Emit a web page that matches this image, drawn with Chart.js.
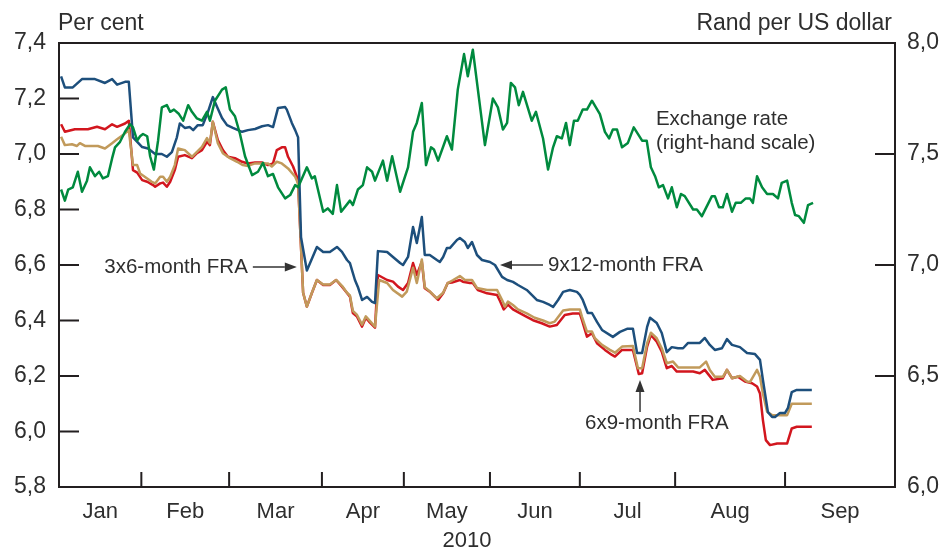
<!DOCTYPE html>
<html>
<head>
<meta charset="utf-8">
<script src="https://cdn.jsdelivr.net/npm/chart.js@4.4.0/dist/chart.umd.min.js"></script>
<style>
  body { margin: 0; background: #fff; }
</style>
</head>
<body>
<canvas id="chart" width="952" height="551"></canvas>
<script>
// x axis is in trading days from the start of January 2010
const months = ["Jan", "Feb", "Mar", "Apr", "May", "Jun", "Jul", "Aug", "Sep"];
const monthStarts = [0, 19.7, 40.7, 62.9, 82.5, 103.1, 124.6, 147.4, 173.7, 200];
const leftTicks = [5.8, 6.0, 6.2, 6.4, 6.6, 6.8, 7.0, 7.2, 7.4];
const rightTicks = [6.0, 6.5, 7.0, 7.5, 8.0];

// 9x12-month FRA, per cent
const fra9x12Day = [0.5,1.4,3.3,5.5,8.6,11.0,12.7,13.9,15.8,16.7,
  17.7,19.9,21.3,23.0,24.6,25.8,27.0,28.2,28.9,30.1,
  31.3,32.1,33.2,34.4,35.6,36.8,37.8,39.0,40.2,41.6,
  43.8,45.2,46.9,48.6,50.0,51.2,52.4,54.1,54.5,55.7,
  56.5,57.2,57.9,59.3,61.7,63.2,64.8,66.5,67.7,68.9,
  69.6,70.8,71.5,72.5,73.7,74.9,75.6,76.3,78.5,79.9,
  81.6,82.3,83.5,84.7,85.6,86.8,87.5,88.7,90.4,91.1,
  91.9,92.8,93.5,95.2,95.9,97.1,97.8,98.8,100.0,101.2,
  103.1,104.3,106.0,107.2,108.6,109.8,111.9,113.1,114.3,115.8,
  117.4,118.2,119.4,120.6,122.2,123.9,124.6,125.3,126.5,127.5,
  128.7,129.9,132.5,134.2,135.9,137.3,138.3,139.5,140.7,141.4,
  143.0,144.2,145.4,146.6,148.1,149.3,150.5,153.3,154.5,155.7,
  156.9,158.6,159.8,161.0,162.9,164.6,166.5,167.7,168.4,169.6,
  170.6,171.3,172.5,173.7,174.4,175.3,176.5,180.1];
const fra9x12 = [7.28,7.24,7.24,7.27,7.27,7.256,7.27,7.25,7.26,7.26,
  7.06,7.025,7.02,7.00,7.00,6.99,7.007,7.06,7.11,7.094,
  7.097,7.086,7.104,7.104,7.15,7.205,7.17,7.13,7.104,7.094,
  7.08,7.086,7.09,7.10,7.104,7.097,7.166,7.169,7.16,7.112,
  7.086,7.06,6.70,6.58,6.665,6.647,6.647,6.665,6.647,6.618,
  6.607,6.546,6.521,6.474,6.485,6.467,6.463,6.65,6.647,6.629,
  6.607,6.60,6.629,6.737,6.679,6.773,6.636,6.636,6.618,6.611,
  6.629,6.661,6.661,6.69,6.697,6.683,6.661,6.683,6.636,6.618,
  6.611,6.60,6.557,6.546,6.539,6.528,6.51,6.492,6.474,6.467,
  6.456,6.449,6.474,6.503,6.51,6.503,6.492,6.474,6.427,6.427,
  6.395,6.366,6.341,6.359,6.37,6.37,6.283,6.283,6.377,6.41,
  6.391,6.355,6.286,6.304,6.30,6.30,6.319,6.319,6.337,6.312,
  6.294,6.30,6.333,6.312,6.304,6.283,6.279,6.258,6.186,6.07,
  6.052,6.052,6.067,6.067,6.085,6.142,6.15,6.15];

// 6x9-month FRA, per cent
const fra6x9Day = [0.5,1.4,3.8,6.9,9.1,11.0,12.7,13.9,15.8,16.7,
  17.7,18.7,19.9,21.1,22.5,23.0,24.2,24.9,25.8,26.6,
  27.7,28.5,30.1,31.8,33.0,34.2,35.4,36.1,36.8,38.0,
  39.2,40.4,42.1,43.8,45.2,46.9,48.6,50.0,51.2,52.1,
  53.3,54.1,54.8,56.0,56.9,57.2,58.4,59.3,60.5,61.7,
  63.2,64.8,66.3,67.7,68.9,69.6,70.3,71.3,72.5,73.4,
  74.4,75.6,76.3,78.5,79.9,81.1,82.3,83.5,84.7,85.6,
  86.8,87.5,88.7,89.9,90.7,91.9,93.0,94.0,95.9,96.6,
  98.3,99.0,100.2,102.4,104.8,105.5,106.4,107.4,108.6,109.8,
  111.9,113.4,115.5,117.4,119.1,121.0,122.9,124.6,125.1,126.3,
  127.5,128.7,130.6,132.3,133.0,134.7,137.3,138.7,139.5,140.7,
  141.6,143.0,144.2,145.4,146.6,147.8,151.7,153.3,154.5,156.4,
  158.8,159.8,161.0,162.4,164.1,165.8,167.0,167.7,168.4,169.1,
  170.1,171.8,174.2,175.3,176.5,180.1];
const fra6x9 = [7.107,7.08,7.089,7.089,7.098,7.089,7.107,7.098,7.11,7.12,
  6.942,6.933,6.906,6.90,6.888,6.882,6.894,6.897,6.882,6.90,
  6.942,6.99,6.996,6.985,7.003,7.014,7.044,7.032,7.116,7.05,
  7.014,6.99,6.985,6.972,6.966,6.969,6.969,6.96,6.966,7.014,
  7.024,7.024,6.99,6.955,6.918,6.894,6.50,6.45,6.499,6.546,
  6.528,6.528,6.546,6.522,6.499,6.486,6.427,6.414,6.378,6.41,
  6.392,6.374,6.564,6.546,6.54,6.522,6.51,6.535,6.607,6.564,
  6.612,6.516,6.504,6.486,6.474,6.498,6.535,6.537,6.546,6.54,
  6.535,6.535,6.51,6.498,6.492,6.47,6.44,6.457,6.44,6.43,
  6.413,6.401,6.39,6.378,6.384,6.42,6.425,6.425,6.402,6.342,
  6.354,6.318,6.294,6.276,6.27,6.294,6.294,6.207,6.21,6.306,
  6.348,6.324,6.288,6.228,6.236,6.216,6.216,6.21,6.222,6.186,
  6.192,6.222,6.192,6.197,6.18,6.174,6.162,6.137,6.041,5.969,
  5.951,5.957,5.957,6.011,6.017,6.017];

// 3x6-month FRA, per cent
const fra3x6Day = [0.5,1.4,3.1,4.3,5.0,6.2,9.3,11.0,12.7,13.9,
  15.3,16.7,17.7,18.7,19.4,21.1,22.2,23.0,24.2,24.9,
  25.8,26.6,27.7,28.5,30.1,31.8,33.0,34.2,35.4,36.1,
  36.8,38.0,39.2,40.9,42.6,44.0,45.2,46.9,50.0,50.9,
  52.1,53.3,54.8,56.5,57.2,58.4,59.3,60.5,61.7,63.2,
  64.8,66.3,67.7,68.9,69.6,70.3,71.3,72.5,73.4,74.4,
  75.6,76.6,78.5,79.9,82.1,83.2,84.7,85.6,86.8,87.5,
  88.7,90.4,91.9,93.0,94.2,95.9,97.1,98.8,100.0,102.4,
  104.8,106.0,106.7,107.4,108.6,109.8,111.9,113.8,115.8,117.4,
  118.6,120.6,122.2,124.6,125.1,126.3,127.5,128.2,129.9,131.8,
  133.0,134.7,137.3,138.5,139.5,140.7,141.6,143.0,144.2,145.4,
  146.9,148.1,153.3,154.8,155.7,156.9,158.8,159.8,161.0,162.9,
  164.6,165.3,167.0,167.7,168.4,169.4,170.6,174.2,175.3,180.1];
const fra3x6 = [7.062,7.032,7.035,7.029,7.039,7.029,7.029,7.02,7.039,7.053,
  7.068,7.086,6.96,6.96,6.93,6.912,6.90,6.894,6.918,6.918,
  6.90,6.918,6.96,7.02,7.014,6.99,7.008,7.026,7.057,7.039,
  7.116,7.039,7.003,6.985,6.972,6.96,6.957,6.966,6.966,6.955,
  6.972,6.966,6.948,6.918,6.894,6.50,6.45,6.50,6.546,6.53,
  6.53,6.546,6.525,6.50,6.49,6.435,6.42,6.385,6.415,6.398,
  6.378,6.546,6.535,6.51,6.486,6.504,6.59,6.535,6.62,6.52,
  6.505,6.48,6.50,6.535,6.545,6.56,6.546,6.546,6.517,6.51,
  6.51,6.474,6.45,6.468,6.456,6.44,6.426,6.41,6.40,6.39,
  6.396,6.436,6.44,6.44,6.414,6.36,6.36,6.336,6.312,6.294,
  6.284,6.306,6.308,6.228,6.228,6.318,6.356,6.336,6.30,6.246,
  6.252,6.231,6.231,6.252,6.222,6.197,6.197,6.222,6.192,6.20,
  6.18,6.178,6.222,6.197,6.137,6.071,6.059,6.059,6.10,6.10];

// rand per US dollar (right-hand scale)
const fxDay = [0.5,1.4,2.2,3.3,4.5,5.5,6.7,7.4,8.6,9.6,
  10.5,11.7,12.7,13.4,14.6,15.8,17.0,17.7,18.7,19.4,
  20.1,21.1,21.8,22.7,23.7,24.6,25.8,26.6,27.5,28.7,
  29.7,30.9,31.8,33.0,34.2,35.4,36.1,37.3,39.0,39.9,
  40.9,42.1,43.3,44.5,46.2,47.6,48.8,50.0,51.2,52.4,
  54.1,55.3,56.5,57.2,59.3,60.5,61.2,63.2,64.3,65.5,
  66.5,67.5,69.6,70.3,71.5,72.7,73.7,74.9,75.6,77.5,
  78.5,79.7,81.6,83.5,84.7,85.6,86.8,87.8,89.0,89.7,
  90.7,92.8,94.0,95.4,96.9,97.8,99.0,101.9,103.8,105.0,
  106.2,107.2,108.1,109.1,110.0,111.0,113.1,114.1,115.8,117.0,
  118.2,119.1,120.3,121.3,122.2,123.2,124.1,125.3,126.3,127.5,
  129.4,130.6,131.6,132.5,133.5,134.7,136.1,137.5,139.5,140.6,
  141.6,142.6,143.5,144.5,145.7,146.6,147.8,148.8,149.7,151.7,
  152.6,153.8,156.2,156.9,157.9,158.8,159.8,161.0,161.9,163.1,
  164.3,165.3,166.0,167.0,168.2,169.4,170.8,172.0,172.9,174.2,
  175.3,176.1,177.0,178.2,179.2,180.4];
const fxRate = [7.34,7.29,7.34,7.35,7.42,7.33,7.38,7.44,7.40,7.42,
  7.39,7.40,7.48,7.53,7.555,7.60,7.634,7.62,7.56,7.58,
  7.59,7.58,7.49,7.43,7.56,7.71,7.72,7.69,7.70,7.68,
  7.65,7.72,7.69,7.66,7.65,7.69,7.65,7.74,7.79,7.80,
  7.70,7.67,7.59,7.49,7.405,7.42,7.46,7.40,7.41,7.35,
  7.30,7.315,7.36,7.35,7.44,7.39,7.40,7.24,7.255,7.23,
  7.36,7.24,7.29,7.27,7.34,7.36,7.44,7.42,7.38,7.47,
  7.38,7.49,7.33,7.44,7.60,7.64,7.73,7.45,7.53,7.52,
  7.47,7.58,7.52,7.79,7.95,7.85,7.97,7.54,7.75,7.71,
  7.61,7.64,7.82,7.80,7.72,7.78,7.65,7.69,7.57,7.43,
  7.53,7.58,7.57,7.64,7.54,7.65,7.65,7.70,7.70,7.74,
  7.68,7.60,7.57,7.61,7.61,7.53,7.55,7.62,7.56,7.56,
  7.44,7.40,7.35,7.36,7.30,7.35,7.26,7.32,7.31,7.25,
  7.25,7.22,7.31,7.31,7.26,7.26,7.32,7.24,7.28,7.28,
  7.30,7.30,7.28,7.40,7.35,7.32,7.32,7.30,7.37,7.38,
  7.28,7.225,7.22,7.19,7.27,7.28];

const pts = (days, vals) => days.map((d, i) => ({ x: d, y: vals[i] }));
const comma = v => Number(v).toFixed(1).replace(".", ",");
const ink = "#2e2e2e";
const fontName = '"Liberation Sans", Arial, sans-serif';

function arrow(ctx, x1, y1, x2, y2) {
  const ang = Math.atan2(y2 - y1, x2 - x1);
  const len = 12, half = 4.5;
  ctx.beginPath();
  ctx.moveTo(x1, y1);
  ctx.lineTo(x2 - len * Math.cos(ang), y2 - len * Math.sin(ang));
  ctx.stroke();
  ctx.beginPath();
  ctx.moveTo(x2, y2);
  ctx.lineTo(x2 - len * Math.cos(ang) + half * Math.sin(ang), y2 - len * Math.sin(ang) - half * Math.cos(ang));
  ctx.lineTo(x2 - len * Math.cos(ang) - half * Math.sin(ang), y2 - len * Math.sin(ang) + half * Math.cos(ang));
  ctx.closePath();
  ctx.fill();
}

const frame = {
  id: "frame",
  afterDraw(chart) {
    const { ctx, chartArea: a, scales } = chart;
    const x = scales.x, y = scales.y, y1 = scales.y1;
    ctx.save();
    ctx.strokeStyle = "#231f20";
    ctx.lineWidth = 2;
    ctx.strokeRect(a.left, a.top, a.right - a.left, a.bottom - a.top);
    ctx.beginPath();
    leftTicks.forEach(v => {
      const py = y.getPixelForValue(v);
      ctx.moveTo(a.left, py); ctx.lineTo(a.left + 20, py);
    });
    rightTicks.forEach(v => {
      const py = y1.getPixelForValue(v);
      ctx.moveTo(a.right - 20, py); ctx.lineTo(a.right, py);
    });
    monthStarts.slice(1, -1).forEach(v => {
      const px = x.getPixelForValue(v);
      ctx.moveTo(px, a.bottom); ctx.lineTo(px, a.bottom - 15);
    });
    ctx.stroke();

    ctx.fillStyle = ink;
    ctx.font = "23px " + fontName;
    ctx.textBaseline = "alphabetic";
    ctx.textAlign = "left";
    ctx.fillText("Per cent", a.left - 1, 30);
    ctx.textAlign = "right";
    ctx.fillText("Rand per US dollar", a.right - 3, 30);

    ctx.font = "22px " + fontName;
    ctx.textAlign = "center";
    ctx.textBaseline = "middle";
    ctx.fillText("2010", x.getPixelForValue(97.6), 541);

    // annotations
    ctx.font = "20.5px " + fontName;
    ctx.strokeStyle = "#333";
    ctx.fillStyle = "#333";
    ctx.lineWidth = 1.5;

    let tx = x.getPixelForValue(56.9), ty = y.getPixelForValue(6.593);
    arrow(ctx, tx - 44, ty, tx, ty);
    ctx.fillStyle = ink;
    ctx.textAlign = "right";
    ctx.fillText("3x6-month FRA", tx - 49, ty);

    tx = x.getPixelForValue(105.5); ty = y.getPixelForValue(6.60);
    ctx.fillStyle = "#333";
    arrow(ctx, tx + 43, ty, tx, ty);
    ctx.fillStyle = ink;
    ctx.textAlign = "left";
    ctx.fillText("9x12-month FRA", tx + 48, ty);

    tx = x.getPixelForValue(139.0); ty = y.getPixelForValue(6.186);
    ctx.fillStyle = "#333";
    arrow(ctx, tx, ty + 32, tx, ty);
    ctx.fillStyle = ink;
    ctx.textAlign = "left";
    ctx.fillText("6x9-month FRA", tx - 55, ty + 43);

    tx = x.getPixelForValue(142.8); ty = y1.getPixelForValue(7.658);
    ctx.fillText("Exchange rate", tx, ty);
    ctx.fillText("(right-hand scale)", tx, ty + 24);
    ctx.restore();
  }
};

new Chart(document.getElementById("chart"), {
  type: "line",
  data: {
    datasets: [
      { label: "Exchange rate", data: pts(fxDay, fxRate), yAxisID: "y1",
        borderColor: "#008a3e", order: 0 },
      { label: "9x12-month FRA", data: pts(fra9x12Day, fra9x12), yAxisID: "y",
        borderColor: "#1d4f7c", order: 1 },
      { label: "3x6-month FRA", data: pts(fra3x6Day, fra3x6), yAxisID: "y",
        borderColor: "#c19a5b", order: 2 },
      { label: "6x9-month FRA", data: pts(fra6x9Day, fra6x9), yAxisID: "y",
        borderColor: "#d2161e", order: 3 }
    ]
  },
  options: {
    responsive: false,
    animation: false,
    layout: { padding: { top: 43, left: 0, right: 0, bottom: 0 } },
    elements: {
      point: { radius: 0 },
      line: { borderWidth: 2.5, tension: 0, borderJoinStyle: "round" }
    },
    plugins: { legend: { display: false }, tooltip: { enabled: false } },
    scales: {
      x: {
        type: "linear",
        min: 0,
        max: 200,
        grid: { display: false, drawTicks: false },
        border: { display: false },
        afterBuildTicks: s => {
          s.ticks = months.map((m, i) => ({ value: (monthStarts[i] + monthStarts[i + 1]) / 2 }));
        },
        afterFit: s => { s.height = 64; },
        ticks: {
          autoSkip: false, maxRotation: 0, minRotation: 0, padding: 12,
          color: ink, font: { family: fontName, size: 22 },
          callback: (v, i) => months[i]
        }
      },
      y: {
        position: "left",
        min: 5.8,
        max: 7.4,
        grid: { display: false, drawTicks: false },
        border: { display: false },
        afterBuildTicks: s => { s.ticks = leftTicks.map(v => ({ value: v })); },
        afterFit: s => { s.width = 59; },
        ticks: { padding: 13, color: ink, font: { family: fontName, size: 23 }, callback: comma }
      },
      y1: {
        position: "right",
        min: 6.0,
        max: 8.0,
        grid: { display: false, drawTicks: false },
        border: { display: false },
        afterBuildTicks: s => { s.ticks = rightTicks.map(v => ({ value: v })); },
        afterFit: s => { s.width = 57; },
        ticks: { padding: 12, color: ink, font: { family: fontName, size: 23 }, callback: comma }
      }
    }
  },
  plugins: [frame]
});
</script>
</body>
</html>
